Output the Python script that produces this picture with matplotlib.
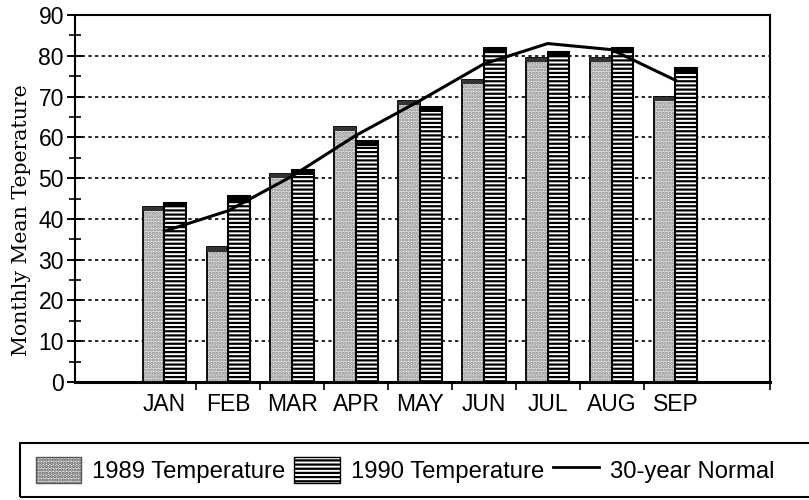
import numpy as np
import matplotlib
matplotlib.use('Agg')
import matplotlib.pyplot as plt
from matplotlib.patches import Patch, Rectangle
from matplotlib.lines import Line2D

# monthly mean temperature data
months = ['JAN', 'FEB', 'MAR', 'APR', 'MAY', 'JUN', 'JUL', 'AUG', 'SEP']
temp_1989 = [43, 33, 51, 62.5, 69, 74, 79.5, 79.5, 70]
temp_1990 = [44, 45.5, 52, 59, 67.5, 82, 81, 82, 77]
normal_30yr = [37, 42, 50.5, 60.5, 69, 78, 83, 81.5, 74]

plt.rcParams['font.family'] = ['Liberation Sans', 'DejaVu Sans']
plt.rcParams['hatch.linewidth'] = 1.6

fig = plt.figure(figsize=(8.09, 5.0), dpi=100)
ax = fig.add_axes([75/809, 1 - 382/500, 695/809, 367/500])

x = np.arange(len(months))
w = 0.34

# 1989 bars: light stipple
ax.bar(x - w/2, temp_1989, w, color='#e4e4e4', edgecolor='#8a8a8a', hatch='.....',
       linewidth=0, zorder=3)
ax.bar(x - w/2, temp_1989, w, fill=False, edgecolor='black', linewidth=1.3, zorder=4)
# 1990 bars: horizontal lines
ax.bar(x + w/2, temp_1990, w, color='white', edgecolor='black', hatch='----',
       linewidth=1.5, zorder=5)
# dark caps on top of the bars (fake 3D)
ax.bar(x - w/2, [1.0]*len(x), w, bottom=np.array(temp_1989) - 1.0, color='#333333', zorder=4)
ax.bar(x + w/2, [1.2]*len(x), w, bottom=np.array(temp_1990) - 1.2, color='black', zorder=6)

# 30-year normal line
ax.plot(x, normal_30yr, color='black', linewidth=2.2, zorder=7)

ax.set_xlim(-1.4, 9.48)
ax.set_ylim(0, 90)

# y axis
ax.set_yticks(np.arange(0, 91, 10))
ax.set_yticks(np.arange(5, 90, 10), minor=True)
ax.tick_params(axis='y', which='major', direction='inout', length=12, width=1.4, labelsize=16.5, pad=2)
ax.tick_params(axis='y', which='minor', direction='inout', length=9, width=1.2)
ax.set_ylabel('Monthly Mean Teperature', family='DejaVu Serif', fontsize=14.7)
ax.yaxis.set_label_coords(-0.063, 0.44)

# x axis: ticks between months, labels at centers
ax.set_xticks(list(np.arange(0.5, 8, 1)) + [9.48])
ax.set_xticklabels([])
ax.set_xticks(x, minor=True)
ax.set_xticklabels(months, minor=True, fontsize=16.5)
ax.tick_params(axis='x', which='major', direction='out', length=6, width=1.2)
ax.tick_params(axis='x', which='minor', length=0, pad=8)

# dotted grid lines
for v in range(10, 90, 10):
    ax.axhline(v, color='black', linestyle=(0, (2, 2)), linewidth=1.2, zorder=1)

for side in ['left', 'right', 'top']:
    ax.spines[side].set_linewidth(1.5)
ax.spines['bottom'].set_linewidth(2.2)

# legend in a box at the bottom
fig.patches.append(Rectangle((20/809, 3/500), 800/809, 54/500, transform=fig.transFigure,
                             fill=False, edgecolor='black', linewidth=1.5))
handles = [
    Patch(facecolor='#e4e4e4', edgecolor='#555555', hatch='.....', label='1989 Temperature'),
    Patch(facecolor='white', edgecolor='black', hatch='----', label='1990 Temperature'),
    Line2D([], [], color='black', linewidth=2, label='30-year Normal'),
]
fig.legend(handles=handles, loc='center left', bbox_to_anchor=(14/809, 30/500), ncol=3,
           frameon=False, fontsize=17.2, handlelength=1.9, handleheight=1.3,
           handletextpad=0.45, columnspacing=0.4)

fig.savefig('out.png', dpi=100)
